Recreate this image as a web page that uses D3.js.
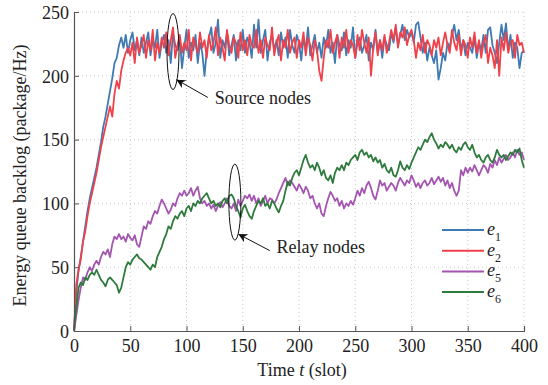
<!DOCTYPE html>
<html>
<head>
<meta charset="utf-8">
<script src="https://cdn.jsdelivr.net/npm/d3@7/dist/d3.min.js"></script>
<style>
  body { margin: 0; background: #fff; }
  svg text { font-family: "Liberation Serif", "Times New Roman", serif; fill: #222; }
</style>
</head>
<body>
<div id="chart"></div>
<script>
// slots are sampled every 2 (t = 0, 2, ..., 400)
const slotStep = 2;
const xTicks = [0, 50, 100, 150, 200, 250, 300, 350, 400];
const yTicks = [0, 50, 100, 150, 200, 250];
const seriesNames = ["1", "2", "5", "6"];
const seriesColors = ["#3f7ab2", "#f0414b", "#a455b0", "#2e7b3d"];

const e1 = [
  0, 30, 47, 58, 70, 82, 94, 104, 112, 120,
  128, 138, 148, 160, 168, 178, 188, 198, 210, 214,
  224, 230, 222, 232, 218, 228, 234, 220, 228, 216,
  230, 218, 226, 234, 216, 228, 222, 236, 214, 226,
  232, 218, 228, 210, 234, 224, 220, 230, 206, 222,
  236, 214, 226, 220, 232, 210, 226, 218, 200, 220,
  230, 238, 218, 226, 244, 214, 228, 222, 234, 216,
  224, 232, 212, 228, 220, 236, 218, 230, 226, 214,
  240, 222, 244, 218, 228, 236, 212, 226, 232, 220,
  228, 216, 234, 222, 230, 214, 236, 224, 218, 232,
  226, 212, 230, 220, 238, 216, 224, 232, 218, 226,
  214, 230, 222, 236, 218, 226, 210, 232, 224, 220,
  234, 216, 228, 222, 238, 214, 226, 230, 218, 224,
  232, 212, 226, 220, 236, 218, 228, 214, 230, 224,
  220, 234, 226, 238, 224, 232, 240, 228, 236, 230,
  234, 226, 240, 242, 230, 218, 226, 212, 222, 216,
  210, 220, 197, 206, 218, 212, 226, 222, 232, 240,
  228, 236, 220, 228, 216, 226, 222, 218, 230, 214,
  226, 220, 232, 218, 236, 238, 224, 218, 210, 226,
  240, 228, 241, 220, 232, 214, 226, 222, 206, 218,
  220
];
const e2 = [
  0, 36, 48, 56, 70, 78, 90, 100, 108, 116,
  124, 134, 144, 152, 160, 168, 176, 168, 186, 196,
  190, 204, 212, 218, 222, 216, 226, 210, 230, 218,
  224, 232, 214, 228, 220, 236, 212, 226, 218, 230,
  222, 234, 216, 228, 238, 214, 224, 232, 218, 226,
  220, 236, 212, 230, 224, 218, 234, 222, 228, 214,
  232, 220, 226, 238, 216, 230, 222, 212, 236, 224,
  218, 230, 226, 214, 234, 220, 228, 216, 232, 224,
  222, 236, 218, 228, 214, 230, 224, 220, 238, 216,
  226, 232, 212, 228, 222, 236, 218, 226, 230, 214,
  228, 222, 234, 216, 230, 224, 212, 228, 220, 204,
  196, 214, 228, 222, 236, 218, 226, 232, 214, 230,
  222, 236, 218, 228, 224, 214, 232, 220, 236, 226,
  218, 230, 200, 222, 234, 216, 228, 220, 232, 218,
  226, 236, 228, 240, 222, 234, 230, 238, 224, 232,
  236, 228, 214, 226, 220, 232, 218, 228, 224, 216,
  228, 222, 230, 216, 226, 234, 224, 218, 236, 226,
  220, 232, 216, 228, 224, 214, 230, 222, 234, 218,
  228, 214, 226, 232, 210, 222, 216, 206, 228, 200,
  230, 220, 234, 218, 226, 228, 214, 232, 224, 226,
  218
];
const e5 = [
  0, 12, 24, 34, 42, 40, 46, 50, 47, 52,
  55, 52, 58, 62, 60, 64, 58, 68, 74, 72,
  76, 72, 74, 70, 76, 73, 71, 75, 68, 66,
  74, 82, 80, 86, 84, 90, 94, 92, 98, 103,
  100, 96, 92, 95, 100, 98, 104, 108, 106, 110,
  106, 108, 112, 106, 110, 113, 104, 100, 102, 98,
  100, 96, 99, 94, 98, 101, 97, 100, 104, 98,
  96, 100, 94, 103, 98, 102, 106, 104, 107, 102,
  106, 100, 104, 98, 102, 106, 100, 104, 103, 100,
  103, 108, 112, 116, 120, 114, 118, 116, 113, 110,
  115, 112, 108, 113, 110, 104, 106, 100, 96, 100,
  92, 90, 98, 104, 109, 106, 102, 104, 98, 102,
  96, 100, 98, 102, 99, 104, 110, 106, 112, 108,
  114, 117, 112, 106, 103, 110, 118, 114, 116, 110,
  113, 116, 114, 110, 116, 120, 117, 114, 118, 116,
  122, 118, 113, 116, 112, 116, 118, 114, 116, 120,
  115, 118, 121, 117, 120, 114, 118, 112, 116, 110,
  106, 110, 126, 122, 128, 124, 128, 125, 130, 126,
  122, 126, 130, 128, 124, 131, 128, 134, 130, 136,
  132, 135, 138, 134, 136, 140, 136, 142, 138, 140,
  134
];
const e6 = [
  0, 18, 34, 38, 36, 42, 40, 44, 46, 44,
  48, 44, 40, 38, 35, 40, 42, 40, 38, 36,
  30, 34, 42, 50, 54, 52, 56, 58, 60, 57,
  56, 54, 52, 50, 48, 52, 50, 58, 62, 66,
  72, 76, 82, 80, 86, 90, 88, 92, 94, 90,
  96, 98, 94, 100, 98, 102, 100, 104, 106, 108,
  104, 100, 102, 98, 100, 97, 102, 104, 100, 106,
  107, 104, 98, 94, 89, 96, 99, 94, 90, 88,
  94, 98, 102, 100, 104, 98, 100, 96, 102, 100,
  96, 93, 98, 102, 110, 117, 114, 120, 124, 126,
  122, 128, 134, 138, 132, 128, 130, 126, 132, 128,
  122, 126, 120, 118, 122, 116, 124, 128, 126, 130,
  126, 132, 130, 134, 136, 138, 134, 140, 142, 138,
  140, 136, 138, 133, 136, 132, 134, 128, 131, 126,
  124, 128, 122, 121, 126, 133, 128, 126, 130, 127,
  132, 136, 140, 144, 142, 146, 150, 148, 152, 155,
  150, 147, 143, 146, 144, 148, 146, 143, 146, 142,
  140, 144, 142, 146, 148, 144, 142, 146, 140, 136,
  138, 134, 132, 136, 138, 134, 132, 136, 142, 138,
  136, 138, 134, 137, 140, 138, 142, 140, 143, 134,
  128
];
const allSeries = [e1, e2, e5, e6];

const W = 548, H = 385;
const margin = {top: 12, right: 24, bottom: 54, left: 74};
const w = W - margin.left - margin.right;
const h = H - margin.top - margin.bottom;

const svg = d3.select("#chart").append("svg")
  .attr("width", W).attr("height", H);
const g = svg.append("g").attr("transform", `translate(${margin.left},${margin.top})`);

const x = d3.scaleLinear().domain([0, 400]).range([0, w]);
const y = d3.scaleLinear().domain([0, 250]).range([h, 0]);

// dotted grid
g.append("g").selectAll("line").data(xTicks.slice(1)).enter().append("line")
  .attr("x1", d => x(d)).attr("x2", d => x(d)).attr("y1", 0).attr("y2", h)
  .attr("stroke", "#c8c8c8").attr("stroke-dasharray", "1,3");
g.append("g").selectAll("line").data(yTicks.slice(1)).enter().append("line")
  .attr("y1", d => y(d)).attr("y2", d => y(d)).attr("x1", 0).attr("x2", w)
  .attr("stroke", "#c8c8c8").attr("stroke-dasharray", "1,3");

// series
const line = d3.line().x((d, i) => x(i * slotStep)).y(d => y(d));
g.selectAll(".series").data(allSeries).enter().append("path")
  .attr("class", "series")
  .attr("d", line)
  .attr("fill", "none")
  .attr("stroke", (d, i) => seriesColors[i])
  .attr("stroke-width", 1.8)
  .attr("stroke-linejoin", "round");

// axes (ticks point inward)
const xAxis = g.append("g").attr("transform", `translate(0,${h})`)
  .call(d3.axisBottom(x).tickValues(xTicks).tickSize(-5).tickPadding(5).tickFormat(d3.format("d")));
const yAxis = g.append("g")
  .call(d3.axisLeft(y).tickValues(yTicks).tickSize(-5).tickPadding(5).tickFormat(d3.format("d")));
[xAxis, yAxis].forEach(a => {
  a.attr("font-family", null).attr("font-size", null);
  a.select(".domain").attr("stroke", "#555").attr("stroke-width", 1.2);
  a.selectAll(".tick line").attr("stroke", "#555");
  a.selectAll(".tick text").style("font-size", "18px").attr("fill", "#222");
});
xAxis.selectAll(".tick text").attr("dy", "0.9em");
yAxis.selectAll(".tick text").attr("dy", "0.35em");

// axis titles
const xl = svg.append("text")
  .attr("x", margin.left + w / 2 + 3).attr("y", 376)
  .attr("text-anchor", "middle").style("font-size", "18px");
xl.append("tspan").text("Time ");
xl.append("tspan").style("font-style", "italic").text("t");
xl.append("tspan").text(" (slot)");

svg.append("text")
  .attr("transform", `translate(26,${margin.top + h / 2 + 4}) rotate(-90)`)
  .attr("text-anchor", "middle").style("font-size", "18px")
  .text("Energy queue backlog (package/Hz)");

// legend
const legend = g.append("g").attr("transform", `translate(${w - 82},${218})`);
seriesNames.forEach((n, i) => {
  const row = legend.append("g").attr("transform", `translate(0,${i * 20.7})`);
  row.append("line").attr("x1", 0).attr("x2", 42).attr("y1", 0).attr("y2", 0)
    .attr("stroke", seriesColors[i]).attr("stroke-width", 2);
  const t = row.append("text").attr("x", 45).attr("y", 5).style("font-size", "18px");
  t.append("tspan").style("font-style", "italic").text("e");
  t.append("tspan").attr("dy", 6).style("font-size", "12px").text(n);
});

// annotations
svg.append("defs").append("marker")
  .attr("id", "arrow").attr("viewBox", "0 0 10 10").attr("refX", 10).attr("refY", 5)
  .attr("markerWidth", 14).attr("markerHeight", 9).attr("markerUnits", "userSpaceOnUse")
  .attr("orient", "auto")
  .append("path").attr("d", "M0,0 L10,5 L0,10 L3,5 Z").attr("fill", "#111");

const notes = [
  {label: "Source nodes", cx: 88, cy: 219, tip: [91, 197], tail: [119, 183], tx: 125, ty: 178},
  {label: "Relay nodes", cx: 143, cy: 101, tip: [146, 76], tail: [174, 63], tx: 180, ty: 61}
];
notes.forEach(n => {
  g.append("ellipse").attr("cx", x(n.cx)).attr("cy", y(n.cy)).attr("rx", 6).attr("ry", 38)
    .attr("fill", "none").attr("stroke", "#111").attr("stroke-width", 1);
  g.append("line")
    .attr("x1", x(n.tail[0])).attr("y1", y(n.tail[1]))
    .attr("x2", x(n.tip[0])).attr("y2", y(n.tip[1]))
    .attr("stroke", "#111").attr("stroke-width", 1).attr("marker-end", "url(#arrow)");
  g.append("text").attr("x", x(n.tx)).attr("y", y(n.ty))
    .style("font-size", "18px").text(n.label);
});
</script>
</body>
</html>
